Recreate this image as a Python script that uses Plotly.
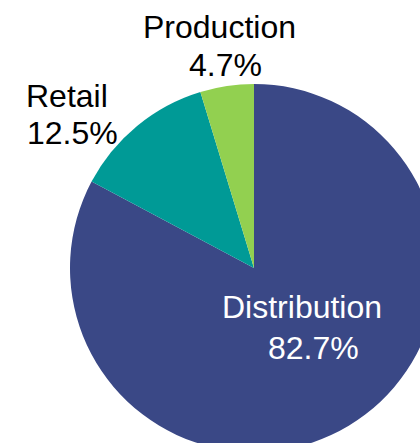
import plotly.graph_objects as go

# Share by supply-chain stage (percent)
stages = ["Distribution", "Retail", "Production"]
shares = [82.7, 12.5, 4.7]
colors = ["#3a4886", "#009a96", "#92d050"]

FONT = "Liberation Sans, Arial, Helvetica, sans-serif"
FONT_SIZE = 32

# Figure canvas is a little bigger than the page window so the pie runs off
# the right and bottom edges; plot area is a 368 px square.
W, H = 440, 460
M = dict(l=70, r=2, t=84, b=8)
PW = W - M["l"] - M["r"]
PH = H - M["t"] - M["b"]


def to_paper(px, py):
    """Convert canvas pixel position to paper coordinates."""
    return (px - M["l"]) / PW, (H - M["b"] - py) / PH


# Label placement (pixel centres of the name line and the value line)
label_pos = {
    "Distribution": ((302, 307), (313, 348), "white"),
    "Retail": ((67, 96), (72, 133), "black"),
    "Production": ((219, 27), (225, 65), "black"),
}

fig = go.Figure(
    go.Pie(
        labels=stages,
        values=shares,
        sort=False,
        direction="clockwise",
        rotation=0,
        marker=dict(colors=colors, line=dict(width=0)),
        textinfo="none",
        showlegend=False,
        hoverinfo="skip",
    )
)

annotations = []
for name, value in zip(stages, shares):
    name_xy, value_xy, color = label_pos[name]
    for text, (px, py) in ((name, name_xy), (f"{value:.1f}%", value_xy)):
        x, y = to_paper(px, py)
        annotations.append(
            dict(
                text=text,
                x=x,
                y=y,
                xref="paper",
                yref="paper",
                xanchor="center",
                yanchor="middle",
                showarrow=False,
                font=dict(family=FONT, size=FONT_SIZE, color=color),
            )
        )

fig.update_layout(
    width=W,
    height=H,
    autosize=False,
    margin=dict(**M, autoexpand=False),
    paper_bgcolor="white",
    plot_bgcolor="white",
    annotations=annotations,
)

fig.write_html(
    "out.html",
    config={"responsive": False},
    post_script=(
        "document.documentElement.style.overflow='hidden';"
        "document.body.style.overflow='hidden';"
        "document.body.style.margin='0';"
    ),
)
